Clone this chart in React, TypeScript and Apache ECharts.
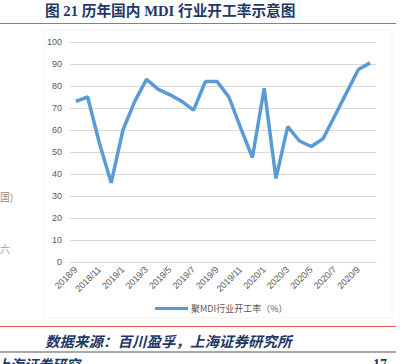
import React, { useEffect, useRef } from "react";
import * as echarts from "echarts";

const categories: string[] = [
  "2018/9", "2018/10", "2018/11", "2018/12",
  "2019/1", "2019/2", "2019/3", "2019/4", "2019/5", "2019/6",
  "2019/7", "2019/8", "2019/9", "2019/10", "2019/11", "2019/12",
  "2020/1", "2020/2", "2020/3", "2020/4", "2020/5", "2020/6",
  "2020/7", "2020/8", "2020/9", "2020/10",
];

const operatingRate: number[] = [
  73, 75, 54, 36, 60, 73, 83, 78.5, 76, 73,
  69, 82, 82, 75, 61, 47.5, 79, 38, 61.5, 55,
  52.5, 56, 66.5, 77, 87.5, 90.5,
];

const seriesName = "聚MDI行业开工率（%）";
const titleText = "图 21 历年国内 MDI 行业开工率示意图";
const sourceText = "数据来源：百川盈孚，上海证券研究所";

export default function App() {
  const ref = useRef<HTMLDivElement>(null);

  useEffect(() => {
    document.body.style.margin = "0";
    if (!ref.current) return;
    const chart = echarts.init(ref.current, null, { renderer: "svg" });
    const gray = "#595959";
    chart.setOption({
      animation: false,
      backgroundColor: "#ffffff",
      grid: { left: 70, right: 29, top: 42, bottom: 102 },
      xAxis: {
        type: "category",
        data: categories,
        boundaryGap: true,
        axisLine: { show: true, lineStyle: { color: "#d9d9d9", width: 1 } },
        axisTick: { show: false },
        axisLabel: {
          interval: 1,
          rotate: 45,
          fontSize: 9,
          color: gray,
          margin: 6,
          fontFamily: "Liberation Sans, Arial, sans-serif",
        },
      },
      yAxis: {
        type: "value",
        min: 0,
        max: 100,
        interval: 10,
        axisLine: { show: false },
        axisTick: { show: false },
        axisLabel: {
          fontSize: 9,
          color: gray,
          margin: 8,
          fontFamily: "Liberation Sans, Arial, sans-serif",
        },
        splitLine: { lineStyle: { color: "#d9d9d9", width: 1 } },
      },
      legend: {
        bottom: 46,
        left: 150,
        itemWidth: 33,
        itemHeight: 3,
        itemGap: 4,
        icon: "rect",
        textStyle: {
          fontSize: 9,
          color: gray,
          fontFamily: "Noto Sans CJK SC, sans-serif",
          padding: [0, 0, 0, -2],
        },
        data: [seriesName],
      },
      series: [
        {
          name: seriesName,
          type: "line",
          data: operatingRate,
          showSymbol: false,
          symbol: "none",
          lineStyle: { color: "#5b9bd5", width: 3.5 },
          itemStyle: { color: "#5b9bd5" },
        },
      ],
      graphic: [
        {
          type: "rect",
          shape: { x: 44, y: 30, width: 348, height: 288 },
          style: { fill: "none", stroke: "#f3f3f3", lineWidth: 1 },
          silent: true,
          z: -1,
        },
        {
          type: "text",
          left: 45,
          top: 4,
          style: {
            text: titleText,
            fontSize: 14.7,
            fontWeight: "bold",
            fill: "#1f3864",
            fontFamily: "Liberation Serif, Noto Sans CJK SC, serif",
          },
        },
        {
          type: "line",
          shape: { x1: 0, y1: 23.5, x2: 396, y2: 23.5 },
          style: { stroke: "#e8585a", lineWidth: 1 },
        },
        {
          type: "text",
          left: 0,
          top: 191,
          style: {
            text: "国)",
            fontSize: 10,
            fill: "#8c8c8c",
            fontFamily: "Noto Sans CJK SC, sans-serif",
          },
        },
        {
          type: "text",
          left: 0,
          top: 243,
          style: {
            text: "六",
            fontSize: 10,
            fill: "#a0a0a0",
            fontFamily: "Noto Sans CJK SC, sans-serif",
          },
        },
        {
          type: "line",
          shape: { x1: 0, y1: 326.5, x2: 396, y2: 326.5 },
          style: { stroke: "#e8585a", lineWidth: 1 },
        },
        {
          type: "text",
          left: 45,
          top: 333,
          style: {
            text: sourceText,
            fontSize: 14.5,
            fontWeight: "bold",
            fontStyle: "italic",
            fill: "#1f3864",
            fontFamily: "Noto Sans CJK SC, sans-serif",
          },
        },
        {
          type: "line",
          shape: { x1: 0, y1: 352, x2: 396, y2: 352 },
          style: { stroke: "#8c8c8c", lineWidth: 1.5 },
        },
        {
          type: "text",
          left: -4,
          top: 357,
          style: {
            text: "上海证券研究",
            fontSize: 14,
            fontWeight: "bold",
            fontStyle: "italic",
            fill: "#1f3864",
            fontFamily: "Noto Sans CJK SC, sans-serif",
          },
        },
        {
          type: "text",
          left: 373,
          top: 357,
          style: {
            text: "17",
            fontSize: 14,
            fontWeight: "bold",
            fill: "#1f3864",
            fontFamily: "Liberation Serif, serif",
          },
        },
      ],
    });
    return () => chart.dispose();
  }, []);

  return <div ref={ref} style={{ width: 405, height: 364 }} />;
}
